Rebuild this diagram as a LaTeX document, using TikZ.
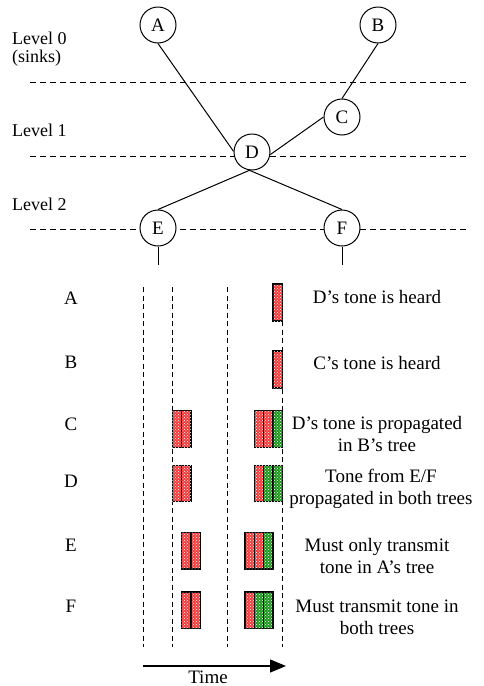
\documentclass[tikz,border=0pt]{standalone}
\usepackage{fontspec}
\setmainfont{Liberation Serif}
\usetikzlibrary{patterns,arrows.meta}
\definecolor{tred}{RGB}{240,60,60}
\definecolor{tgreen}{RGB}{30,150,30}
\tikzset{
  nodecirc/.style={circle,draw,line width=1pt,minimum size=36pt,inner sep=0pt,fill=white,font=\fontsize{19}{22}\selectfont},
  lvl/.style={draw,dash pattern=on 6pt off 4pt,line width=0.9pt},
  tl/.style={draw,dash pattern=on 5pt off 3.5pt,line width=1pt},
  edge/.style={line width=1pt},
  txt/.style={font=\fontsize{19}{22}\selectfont,inner sep=0pt},
  lvltxt/.style={font=\fontsize{18}{18}\selectfont,inner sep=0pt,align=left},
  desc/.style={txt,align=center},
  rbar/.style={draw,line width=1.3pt,fill=tred,postaction={pattern=crosshatch dots,pattern color=white}},
  gbar/.style={draw,line width=1.3pt,fill=tgreen,postaction={pattern=crosshatch dots,pattern color=white}},
}
\begin{document}
\begin{tikzpicture}[x=1pt,y=-1pt]
\useasboundingbox (0,0) rectangle (484,686);
% level lines
\draw[lvl] (30,82) -- (467,82);
\draw[lvl] (30,156) -- (467,156);
\draw[lvl] (30,229) -- (467,229);
% level labels
\node[lvltxt,anchor=west] (l0) at (12,49) {Level 0\\(sinks)};
\node[lvltxt,anchor=west] (l1) at (12,130) {Level 1};
\node[lvltxt,anchor=west] (l2) at (12,204) {Level 2};
% tree nodes
\node[nodecirc] (A) at (158,25) {A};
\node[nodecirc] (B) at (378,25) {B};
\node[nodecirc] (C) at (342,117) {C};
\node[nodecirc] (D) at (252,152) {D};
\node[nodecirc] (E) at (158,228) {E};
\node[nodecirc] (F) at (342,228) {F};
\draw[edge] (A.south) -- (D.178);
\draw[edge] (B.south) -- (C.north);
\draw[edge] (C.west) -- (D.-8);
\draw[edge] (D.-98) -- (E.north);
\draw[edge] (D.-98) -- (F.north);
\coordinate (Es) at (158,265);
\coordinate (Fs) at (342,265);
\draw[edge] (E.south) -- (Es);
\draw[edge] (F.south) -- (Fs);
% time lines
\draw[tl] (143.3,287) -- (143.3,647);
\draw[tl] (172.3,287) -- (172.3,647);
\draw[tl] (227.3,287) -- (227.3,647);
\draw[tl] (282.3,287) -- (282.3,647);
% row labels
\node[txt] (rA) at (71,298) {A};
\node[txt] (rB) at (71,362) {B};
\node[txt] (rC) at (71,424) {C};
\node[txt] (rD) at (71,481) {D};
\node[txt] (rE) at (71,545) {E};
\node[txt] (rF) at (71,606) {F};
% bars A, B
\path[rbar] (273,284) rectangle (282.3,321);
\path[rbar] (273,351) rectangle (282.3,388);
% C
\path[rbar] (172.3,410.7) rectangle (181.7,447.3);
\path[rbar] (181.7,410.7) rectangle (191,447.3);
\path[rbar] (254.3,410.7) rectangle (263.7,447.3);
\path[rbar] (263.7,410.7) rectangle (273,447.3);
\path[gbar] (273,410.7) rectangle (282.3,447.3);
% D
\path[rbar] (172.3,465.7) rectangle (181.7,501.7);
\path[rbar] (181.7,465.7) rectangle (191,501.7);
\path[rbar] (254.3,465.7) rectangle (263.7,501.7);
\path[gbar] (263.7,465.7) rectangle (273,501.7);
\path[gbar] (273,465.7) rectangle (282.3,501.7);
% E
\path[rbar] (181.7,532.7) rectangle (191,569);
\path[rbar] (191,532.7) rectangle (200.3,569);
\path[rbar] (245,532.7) rectangle (254.3,569);
\path[rbar] (254.3,532.7) rectangle (263.7,569);
\path[gbar] (263.7,532.7) rectangle (273,569);
% F
\path[rbar] (181.7,592) rectangle (191,628.3);
\path[rbar] (191,592) rectangle (200.3,628.3);
\path[rbar] (245,592) rectangle (254.3,628.3);
\path[gbar] (254.3,592) rectangle (263.7,628.3);
\path[gbar] (263.7,592) rectangle (273,628.3);
% descriptions
\node[desc] (dA) at (377,297) {D’s tone is heard};
\node[desc] (dB) at (377,363) {C’s tone is heard};
\node[desc] (dC) at (377,434) {D’s tone is propagated\\in B’s tree};
\node[desc] (dD) at (381,489) {Tone from E/F\\propagated in both trees};
\node[desc] (dE) at (377,556) {Must only transmit\\tone in A’s tree};
\node[desc] (dF) at (377,617) {Must transmit tone in\\both trees};
% time arrow
\coordinate (t0) at (143,666);
\coordinate (t1) at (286,666);
\draw[line width=1.3pt,-{Triangle[length=16pt,width=13pt]}] (t0) -- (t1);
\node[txt,anchor=base] (time) at (208,683) {Time};
\end{tikzpicture}
\end{document}
